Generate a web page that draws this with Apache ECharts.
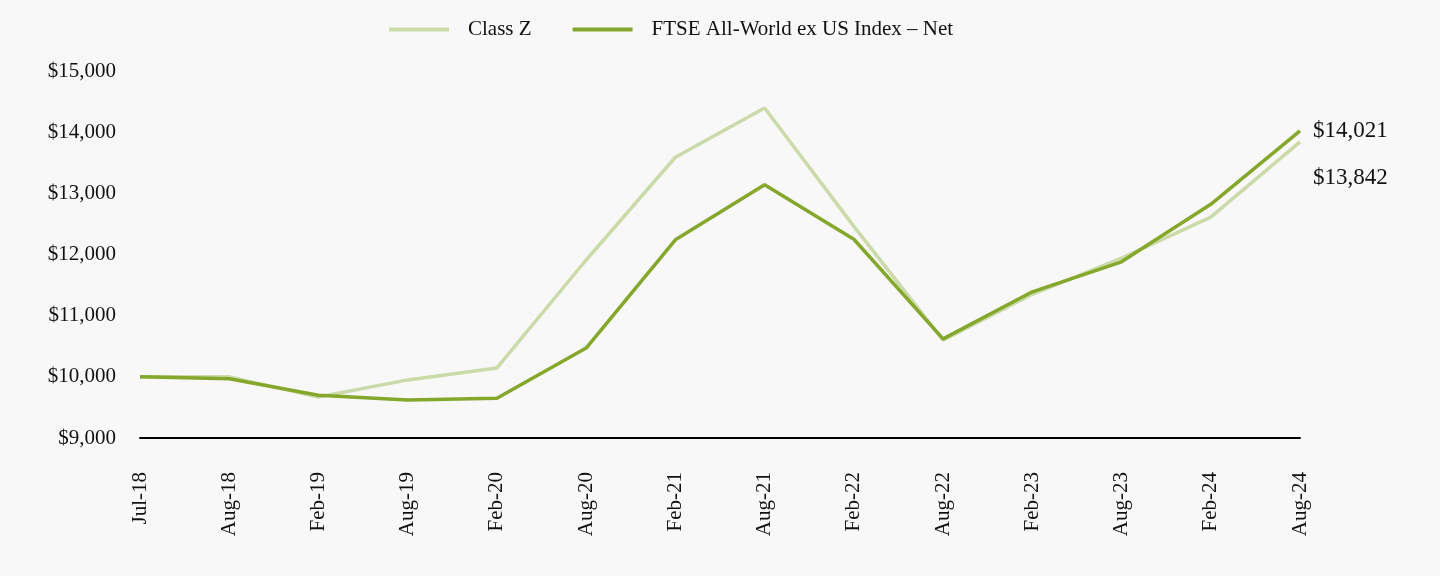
<!DOCTYPE html>
<html>
<head>
<meta charset="utf-8">
<script src="https://cdn.jsdelivr.net/npm/echarts@6/dist/echarts.min.js"></script>
<style>
	html, body { margin: 0; padding: 0; background: #f8f8f8; }
	#chart { width: 1440px; height: 576px; }
</style>
</head>
<body>
<div id="chart"></div>
<script>
var categories = ['Jul-18', 'Aug-18', 'Feb-19', 'Aug-19', 'Feb-20', 'Aug-20', 'Feb-21', 'Aug-21', 'Feb-22', 'Aug-22', 'Feb-23', 'Aug-23', 'Feb-24', 'Aug-24'];
var classZ = [10000, 10000, 9670, 9950, 10145, 11910, 13590, 14395, 12460, 10600, 11350, 11940, 12610, 13842];
var ftseIndex = [10000, 9970, 9700, 9620, 9650, 10470, 12240, 13140, 12250, 10620, 11390, 11880, 12820, 14021];
var seriesNames = ['Class Z', 'FTSE All-World ex US Index \u2013 Net'];

var font = '"Liberation Serif", "DejaVu Serif", serif';
var lightGreen = '#cbdaa9';
var darkGreen = '#84a72c';

var fmtMoney = function(v) {
	return '$' + Math.round(v).toString().replace(/\B(?=(\d{3})+(?!\d))/g, ',');
};

var chart = echarts.init(document.getElementById('chart'));

chart.setOption({
	backgroundColor: '#f8f8f8',
	animation: false,
	legend: {
		top: 14,
		left: 384,
		itemWidth: 60,
		itemHeight: 4,
		itemGap: 41,
		icon: 'rect',
		textStyle: { fontFamily: font, fontSize: 21, color: '#111', padding: [0, 0, 0, 14] },
		data: seriesNames
	},
	grid: { left: 140, right: 140, top: 71, bottom: 138 },
	xAxis: {
		type: 'category',
		boundaryGap: false,
		data: categories,
		axisLine: { show: true, lineStyle: { color: '#000', width: 2 } },
		axisTick: { show: false },
		axisLabel: {
			rotate: 90,
			margin: 34,
			fontFamily: font,
			fontSize: 21,
			color: '#111'
		}
	},
	yAxis: {
		type: 'value',
		min: 9000,
		max: 15000,
		interval: 1000,
		axisLine: { show: false },
		axisTick: { show: false },
		splitLine: { show: false },
		axisLabel: {
			margin: 24,
			fontFamily: font,
			fontSize: 21,
			color: '#111',
			formatter: fmtMoney
		}
	},
	series: [
		{
			name: seriesNames[0],
			type: 'line',
			data: classZ,
			symbol: 'none',
			lineStyle: { color: lightGreen, width: 3.5 },
			itemStyle: { color: lightGreen },
			z: 2,
			endLabel: {
				show: true,
				distance: 13,
				offset: [0, 36],
				fontFamily: font,
				fontSize: 23,
				color: '#111',
				formatter: function(p) { return fmtMoney(p.value); }
			}
		},
		{
			name: seriesNames[1],
			type: 'line',
			data: ftseIndex,
			symbol: 'none',
			lineStyle: { color: darkGreen, width: 3.5 },
			itemStyle: { color: darkGreen },
			z: 3,
			endLabel: {
				show: true,
				distance: 13,
				fontFamily: font,
				fontSize: 23,
				color: '#111',
				formatter: function(p) { return fmtMoney(p.value); }
			}
		}
	]
});
</script>
</body>
</html>
